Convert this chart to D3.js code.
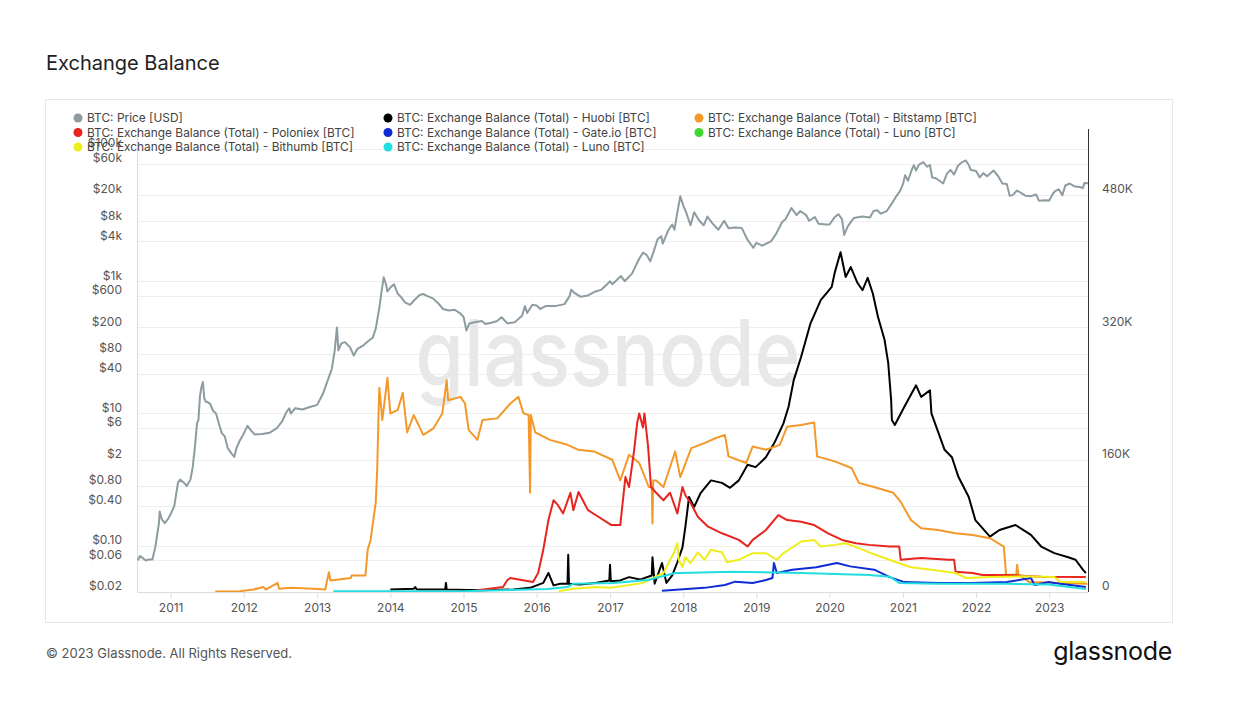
<!DOCTYPE html>
<html><head><meta charset="utf-8">
<script src="https://cdn.jsdelivr.net/npm/d3@7"></script>
<style>body{margin:0;background:#fff;} svg{display:block;font-family:Inter,"Noto Sans",sans-serif;}</style>
</head><body><svg id="c" width="1251" height="701"></svg>
<script>
// ---------------- DATA ----------------
const seriesNames = [
  "BTC: Price [USD]",
  "BTC: Exchange Balance (Total) - Huobi [BTC]",
  "BTC: Exchange Balance (Total) - Bitstamp [BTC]",
  "BTC: Exchange Balance (Total) - Poloniex [BTC]",
  "BTC: Exchange Balance (Total) - Gate.io [BTC]",
  "BTC: Exchange Balance (Total) - Luno [BTC]",
  "BTC: Exchange Balance (Total) - Bithumb [BTC]",
  "BTC: Exchange Balance (Total) - Luno [BTC]"
];
const seriesColors = ["#8d9ca1","#000000","#f4982a","#e8241f","#0f2bd6","#3fd82c","#eeee1c","#22dede"];

const xTickYears = [2011,2012,2013,2014,2015,2016,2017,2018,2019,2020,2021,2022,2023];
const priceTickValues = [100000,60000,20000,8000,4000,1000,600,200,80,40,10,6,2,0.8,0.4,0.1,0.06,0.02];
const priceTickLabels = ["$100k","$60k","$20k","$8k","$4k","$1k","$600","$200","$80","$40","$10","$6","$2","$0.80","$0.40","$0.10","$0.06","$0.02"];
const balanceTickValues = [0,160,320,480]; // thousands of BTC
const balanceTickLabels = ["0","160K","320K","480K"];

// [decimal year, USD]
const priceData = [
[2010.55,0.06],[2010.58,0.07],[2010.62,0.065],[2010.66,0.06],[2010.70,0.062],[2010.75,0.062],[2010.79,0.095],
[2010.84,0.22],[2010.85,0.33],[2010.88,0.25],[2010.92,0.22],[2010.96,0.25],[2011.00,0.30],[2011.05,0.40],
[2011.10,0.90],[2011.13,1.0],[2011.18,0.90],[2011.22,0.80],[2011.27,1.0],[2011.30,1.5],[2011.33,3.0],
[2011.36,7],[2011.38,8],[2011.40,18],[2011.42,25],[2011.44,30],[2011.46,17],[2011.48,15],[2011.50,15],
[2011.54,14],[2011.58,11],[2011.62,10],[2011.66,7],[2011.70,5],[2011.74,4.5],[2011.78,3.0],[2011.83,2.5],
[2011.87,2.2],[2011.90,3.0],[2011.94,3.8],[2012.00,5.0],[2012.05,6.5],[2012.10,5.5],[2012.15,4.8],[2012.25,4.9],
[2012.35,5.1],[2012.45,6.0],[2012.52,7.5],[2012.58,10.5],[2012.62,12],[2012.64,10],[2012.70,12],[2012.80,11.5],
[2012.90,12.5],[2013.00,13.5],[2013.08,20],[2013.15,33],[2013.20,47],[2013.24,90],[2013.27,200],[2013.29,90],
[2013.33,115],[2013.38,120],[2013.45,100],[2013.50,75],[2013.55,95],[2013.62,105],[2013.70,125],[2013.76,140],
[2013.80,190],[2013.85,400],[2013.88,700],[2013.91,1150],[2013.94,900],[2013.96,700],[2014.00,800],[2014.05,900],
[2014.10,650],[2014.15,570],[2014.20,480],[2014.27,440],[2014.33,520],[2014.40,620],[2014.45,640],[2014.50,600],
[2014.58,550],[2014.65,470],[2014.72,380],[2014.80,360],[2014.88,370],[2014.95,330],[2015.00,290],[2015.04,180],
[2015.08,230],[2015.15,240],[2015.25,250],[2015.30,225],[2015.38,235],[2015.46,250],[2015.52,285],[2015.60,230],
[2015.70,240],[2015.80,300],[2015.84,420],[2015.87,330],[2015.94,440],[2016.00,430],[2016.05,380],[2016.12,420],
[2016.25,420],[2016.38,450],[2016.45,600],[2016.47,740],[2016.52,660],[2016.60,580],[2016.70,610],[2016.80,700],
[2016.88,740],[2016.96,900],[2017.00,1000],[2017.03,900],[2017.15,1200],[2017.20,1000],[2017.30,1300],
[2017.40,2200],[2017.45,2700],[2017.50,2500],[2017.55,2000],[2017.60,2900],[2017.65,4300],[2017.70,4800],
[2017.72,3700],[2017.80,6000],[2017.85,7200],[2017.88,6000],[2017.92,11000],[2017.96,19200],[2018.00,14000],
[2018.04,11000],[2018.10,7000],[2018.15,11000],[2018.22,8200],[2018.28,7000],[2018.33,9500],[2018.40,7500],
[2018.48,6000],[2018.56,8200],[2018.62,6300],[2018.70,6500],[2018.80,6400],[2018.88,4200],[2018.96,3200],
[2019.00,3800],[2019.08,3450],[2019.20,4000],[2019.27,5200],[2019.35,7800],[2019.40,8700],[2019.48,12800],
[2019.55,10000],[2019.60,11500],[2019.68,10000],[2019.72,8200],[2019.80,9300],[2019.85,7400],[2019.95,7200],
[2020.00,7200],[2020.07,9300],[2020.12,10300],[2020.17,8700],[2020.20,5000],[2020.25,6800],[2020.33,9000],
[2020.45,9500],[2020.55,9200],[2020.60,11500],[2020.65,11800],[2020.70,10500],[2020.78,11500],[2020.85,15000],
[2020.90,18500],[2020.96,23000],[2021.00,29000],[2021.03,40000],[2021.07,33000],[2021.12,48000],[2021.15,57000],
[2021.18,47000],[2021.22,58000],[2021.28,63000],[2021.33,54000],[2021.37,57000],[2021.40,37000],[2021.45,36000],
[2021.50,33000],[2021.55,30000],[2021.60,42000],[2021.65,48000],[2021.70,41000],[2021.75,55000],[2021.80,62000],
[2021.86,67000],[2021.90,57000],[2021.93,48000],[2022.00,46500],[2022.05,37000],[2022.10,43000],[2022.15,38500],
[2022.24,47000],[2022.30,39000],[2022.36,30000],[2022.42,29500],[2022.46,19500],[2022.50,20000],[2022.56,23500],
[2022.62,21500],[2022.68,19500],[2022.75,19300],[2022.82,20500],[2022.86,16500],[2022.95,16800],[2023.00,16600],
[2023.05,21000],[2023.08,23000],[2023.13,24500],[2023.18,20000],[2023.22,28000],[2023.28,30000],[2023.35,27000],
[2023.42,26500],[2023.46,25500],[2023.48,30500],[2023.53,30300]
];

// [decimal year, thousands of BTC]
const huobiData = [
[2014.00,3],[2014.32,4],[2014.34,6],[2014.36,3],[2014.55,3],[2014.75,3],[2014.76,11],[2014.77,3],[2015.23,2],
[2015.68,3],[2015.91,5],[2016.09,11],[2016.16,23],[2016.23,8],[2016.32,10],[2016.42,10],[2016.43,45],[2016.44,10],
[2016.59,9],[2016.80,11],[2016.99,14],[2017.00,33],[2017.01,13],[2017.14,14],[2017.26,18],[2017.41,15],
[2017.57,20],[2017.58,42],[2017.61,10],[2017.71,35],[2017.77,11],[2017.85,20],[2017.92,36],[2017.99,54],
[2018.03,79],[2018.08,115],[2018.15,103],[2018.24,120],[2018.38,135],[2018.53,132],[2018.64,126],[2018.76,135],
[2018.88,154],[2018.99,151],[2019.13,163],[2019.25,181],[2019.37,204],[2019.44,224],[2019.51,256],[2019.61,284],
[2019.74,325],[2019.88,353],[2020.03,369],[2020.07,386],[2020.15,411],[2020.22,381],[2020.29,393],[2020.38,374],
[2020.45,365],[2020.52,380],[2020.59,361],[2020.66,333],[2020.75,305],[2020.80,277],[2020.84,232],[2020.85,208],
[2020.89,202],[2021.02,224],[2021.18,250],[2021.25,236],[2021.37,244],[2021.39,216],[2021.57,172],[2021.67,163],
[2021.76,139],[2021.90,115],[2021.99,87],[2022.19,67],[2022.32,75],[2022.54,81],[2022.75,69],[2022.89,55],
[2023.07,47],[2023.26,42],[2023.36,39],[2023.46,27],[2023.50,23]
];

const bitstampData = [
[2011.61,0.5],[2011.95,1],[2012.13,3],[2012.27,6],[2012.30,3],[2012.46,11],[2012.48,4],[2012.64,5],[2012.95,4],
[2013.11,3],[2013.16,24],[2013.18,14],[2013.46,17],[2013.47,20],[2013.66,20],[2013.69,51],[2013.73,63],
[2013.80,108],[2013.82,147],[2013.84,220],[2013.85,247],[2013.89,208],[2013.96,259],[2014.00,216],[2014.10,220],
[2014.17,241],[2014.23,193],[2014.32,214],[2014.45,190],[2014.59,198],[2014.71,216],[2014.77,256],[2014.79,232],
[2014.96,236],[2015.02,228],[2015.07,196],[2015.19,184],[2015.26,208],[2015.46,210],[2015.64,228],[2015.75,236],
[2015.82,216],[2015.89,214],[2015.91,120],[2015.92,214],[2015.98,193],[2016.18,184],[2016.42,178],[2016.57,172],
[2016.78,170],[2017.03,160],[2017.14,135],[2017.26,166],[2017.40,156],[2017.53,127],[2017.57,127],[2017.58,83],
[2017.59,135],[2017.63,135],[2017.73,127],[2017.89,170],[2017.96,139],[2018.11,174],[2018.29,180],[2018.44,186],
[2018.57,190],[2018.62,164],[2018.86,156],[2018.95,176],[2019.13,172],[2019.32,178],[2019.42,200],[2019.61,202],
[2019.79,205],[2019.83,164],[2020.07,158],[2020.30,150],[2020.40,132],[2020.64,126],[2020.87,120],[2020.97,109],
[2021.11,87],[2021.25,77],[2021.48,75],[2021.72,71],[2021.95,69],[2022.19,65],[2022.38,55],[2022.41,21],
[2022.55,21],[2022.56,33],[2022.58,21],[2022.73,12],[2023.52,10]
];

const poloniexData = [
[2015.19,2],[2015.54,6],[2015.60,14.5],[2015.64,17],[2015.95,12],[2016.02,23],[2016.09,51],[2016.16,87],
[2016.23,111],[2016.29,105],[2016.36,95],[2016.46,120],[2016.50,99],[2016.57,121],[2016.70,99],[2016.84,91],
[2017.02,81],[2017.14,81],[2017.21,139],[2017.26,127],[2017.33,172],[2017.37,204],[2017.40,216],[2017.45,199],
[2017.47,216],[2017.52,176],[2017.56,127],[2017.63,120],[2017.73,111],[2017.82,120],[2017.92,95],[2017.99,127],
[2018.03,117],[2018.10,108],[2018.20,91],[2018.34,79],[2018.53,71],[2018.76,63],[2018.88,55],[2018.95,63],
[2019.13,75],[2019.30,93],[2019.42,87],[2019.61,85],[2019.79,81],[2019.98,71],[2020.17,63],[2020.36,59],
[2020.54,57],[2020.82,55],[2020.95,55],[2020.97,39],[2021.25,41],[2021.62,39],[2021.70,39],[2021.72,24.5],
[2021.95,23],[2022.09,20.5],[2022.42,20.5],[2022.89,18.5],[2023.50,18]
];

const gateData = [
[2017.71,1.6],[2018.29,5],[2018.57,8.5],[2018.71,12.5],[2018.95,11],[2019.13,14.5],[2019.22,17],[2019.24,35],
[2019.28,23],[2019.49,27],[2019.82,30],[2020.10,35],[2020.28,31],[2020.61,27],[2020.82,18],[2021.02,12],
[2021.48,11],[2021.95,11],[2022.42,12],[2022.75,17],[2022.80,8.5],[2022.99,12],[2023.07,11],[2023.50,6]
];

const lunoGreenData = [];

const bithumbData = [
[2016.30,1],[2016.50,4],[2016.80,6],[2017.00,5],[2017.45,11],[2017.73,23],[2017.87,47],[2017.92,59],[2017.94,39],
[2017.99,30],[2018.03,42],[2018.10,35],[2018.20,48],[2018.29,39],[2018.38,51],[2018.53,48],[2018.60,36],
[2018.76,39],[2018.95,47],[2019.13,47],[2019.28,39],[2019.37,47],[2019.51,55],[2019.61,61],[2019.79,63],
[2019.88,55],[2020.07,57],[2020.22,59],[2020.40,53],[2020.54,48],[2020.72,42],[2020.91,36],[2021.11,30],
[2021.39,27],[2021.72,23],[2021.86,17],[2022.19,18],[2022.64,19],[2023.07,18],[2023.16,12],[2023.50,12]
];

const lunoData = [
[2013.22,1],[2015.00,1],[2016.15,3.5],[2016.42,6],[2016.50,10],[2017.05,11],[2017.52,14.5],[2017.89,23],
[2017.96,23],[2018.68,24.5],[2019.61,23],[2020.54,20.5],[2020.82,18.5],[2020.95,11],[2021.48,10],[2022.42,10],
[2022.99,9],[2023.36,5],[2023.50,3.6]
];

// ---------------- CHART ----------------
const svg = d3.select("#c");
const W = 1251, H = 701;
const plot = {left: 137, right: 1088, top: 129, bottom: 592};
const toDate = y => { const Y = Math.floor(y); const s = Date.UTC(Y,0,1), e = Date.UTC(Y+1,0,1); return new Date(s + (y - Y) * (e - s)); };

const x = d3.scaleUtc().domain([toDate(2010.54), toDate(2023.53)]).range([plot.left, plot.right]);
const yPrice = d3.scaleLog().domain([0.02, 200000]).range([plot.bottom, plot.top]);
const yBal = d3.scaleLinear().domain([0, 560]).range([plot.bottom, plot.top]);

svg.append("rect").attr("width", W).attr("height", H).attr("fill", "#fff");

// title
svg.append("text").attr("x", 46).attr("y", 70).attr("font-size", 20).attr("font-weight", 400)
  .attr("fill", "#222").text("Exchange Balance");

// card
svg.append("rect").attr("x", 45.5).attr("y", 99.5).attr("width", 1127).attr("height", 523)
  .attr("fill", "#fff").attr("stroke", "#e8e8e8");

// grid
const grid = svg.append("g");
priceTickValues.forEach(v => {
  grid.append("line").attr("x1", plot.left).attr("x2", plot.right)
    .attr("y1", Math.round(yPrice(v)) + 0.5).attr("y2", Math.round(yPrice(v)) + 0.5)
    .attr("stroke", "#eeeeee");
});

// watermark
svg.append("text").attr("x", 608).attr("y", 386).attr("text-anchor", "middle")
  .attr("font-size", 92).attr("font-weight", 500).attr("fill", "#e8e8e8")
  .attr("textLength", 385).attr("lengthAdjust", "spacingAndGlyphs").text("glassnode");

// axes lines
svg.append("line").attr("x1", plot.left + 0.5).attr("x2", plot.left + 0.5).attr("y1", plot.top).attr("y2", plot.bottom)
  .attr("stroke", "#dcdcdc");
svg.append("line").attr("x1", plot.left).attr("x2", plot.right).attr("y1", plot.bottom + 0.5).attr("y2", plot.bottom + 0.5)
  .attr("stroke", "#dcdcdc");

// x axis
const xAxis = d3.axisBottom(x).tickValues(xTickYears.map(y => toDate(y))).tickFormat(d3.utcFormat("%Y"))
  .tickSize(6).tickPadding(5);
const gx = svg.append("g").attr("transform", `translate(0,${plot.bottom})`).call(xAxis);
gx.select(".domain").remove();
gx.selectAll(".tick line").attr("stroke", "#dcdcdc");
gx.selectAll(".tick text").attr("font-size", 12).attr("fill", "#555").attr("font-family", "Inter, sans-serif");

// left axis
const yAxisL = d3.axisLeft(yPrice).tickValues(priceTickValues)
  .tickFormat(d => priceTickLabels[priceTickValues.indexOf(d)]).tickSize(0).tickPadding(15);
const gl = svg.append("g").attr("transform", `translate(${plot.left},0)`).call(yAxisL);
gl.select(".domain").remove();
gl.selectAll(".tick text").attr("font-size", 12).attr("fill", "#555").attr("dy", "-0.18em").attr("font-family", "Inter, sans-serif");

// right axis
const yAxisR = d3.axisRight(yBal).tickValues(balanceTickValues)
  .tickFormat(d => balanceTickLabels[balanceTickValues.indexOf(d)]).tickSize(0).tickPadding(14);
const gr = svg.append("g").attr("transform", `translate(${plot.right},0)`).call(yAxisR);
gr.select(".domain").remove();
gr.selectAll(".tick text").attr("font-size", 12).attr("fill", "#555").attr("dy", "-0.18em").attr("font-family", "Inter, sans-serif");

// clip
svg.append("clipPath").attr("id", "clip").append("rect")
  .attr("x", plot.left).attr("y", plot.top - 2).attr("width", plot.right - plot.left).attr("height", plot.bottom - plot.top + 2);
const lines = svg.append("g").attr("clip-path", "url(#clip)");

const priceLine = d3.line().x(d => x(toDate(d[0]))).y(d => yPrice(d[1]));
const balLine = d3.line().x(d => x(toDate(d[0]))).y(d => yBal(d[1]));

const drawOrder = [
  {data: priceData, gen: priceLine, color: seriesColors[0]},
  {data: huobiData, gen: balLine, color: seriesColors[1]},
  {data: bitstampData, gen: balLine, color: seriesColors[2]},
  {data: poloniexData, gen: balLine, color: seriesColors[3]},
  {data: gateData, gen: balLine, color: seriesColors[4]},
  {data: lunoGreenData, gen: balLine, color: seriesColors[5]},
  {data: bithumbData, gen: balLine, color: seriesColors[6]},
  {data: lunoData, gen: balLine, color: seriesColors[7]}
];
drawOrder.forEach(s => {
  if (!s.data.length) return;
  lines.append("path").attr("d", s.gen(s.data)).attr("fill", "none")
    .attr("stroke", s.color).attr("stroke-width", 2).attr("stroke-linejoin", "round");
});

// right border
svg.append("line").attr("x1", plot.right + 0.5).attr("x2", plot.right + 0.5).attr("y1", plot.top).attr("y2", plot.bottom)
  .attr("stroke", "#333");

// legend
const legCols = [78, 388, 699];
const legRows = [118, 132.5, 147];
const leg = svg.append("g");
seriesNames.forEach((n, i) => {
  const cx = legCols[i % 3], cy = legRows[Math.floor(i / 3)];
  leg.append("circle").attr("cx", cx).attr("cy", cy).attr("r", 4.5).attr("fill", seriesColors[i]);
  leg.append("text").attr("x", cx + 9).attr("y", cy).attr("dy", "0.35em").attr("font-size", 11.9)
    .attr("fill", "#444").text(n);
});

// footer
svg.append("text").attr("x", 46).attr("y", 658).attr("font-size", 13).attr("fill", "#555")
  .text("© 2023 Glassnode. All Rights Reserved.");
svg.append("text").attr("x", 1172).attr("y", 660).attr("text-anchor", "end").attr("font-size", 25)
  .attr("font-weight", 400).attr("fill", "#111").attr("letter-spacing", "-0.3").text("glassnode");
</script></body></html>
